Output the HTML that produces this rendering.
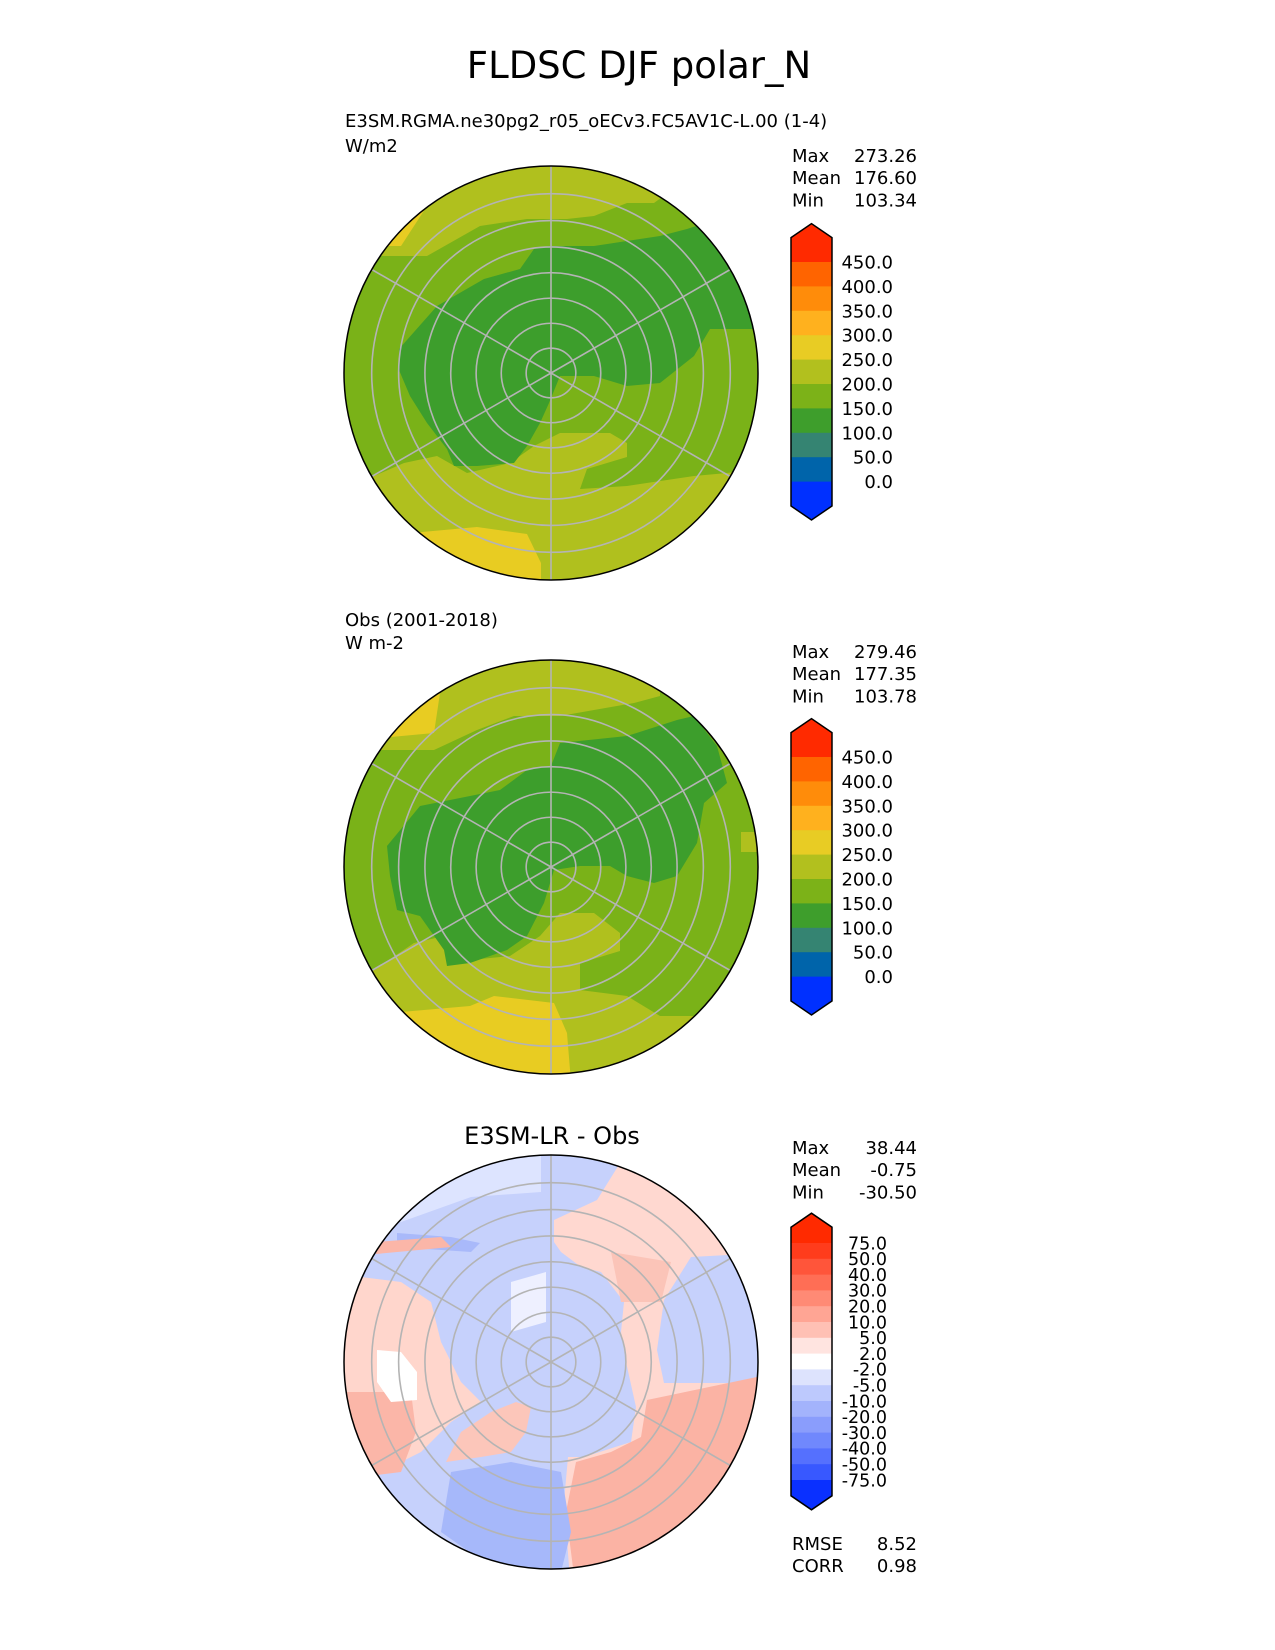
<!DOCTYPE html>
<html><head><meta charset="utf-8">
<style>
html,body{margin:0;padding:0;background:#fff;}
svg{display:block;font-family:"DejaVu Sans","Liberation Sans",sans-serif;}
</style></head>
<body>
<svg id="fig" width="1275" height="1650" viewBox="0 0 1275 1650">
  <text x="639" y="78" font-size="37" text-anchor="middle">FLDSC DJF polar_N</text>

  <text x="345" y="127" font-size="18">E3SM.RGMA.ne30pg2_r05_oECv3.FC5AV1C-L.00 (1-4)</text>
  <text x="345" y="152" font-size="18">W/m2</text>
  <text x="345" y="626" font-size="18">Obs (2001-2018)</text>
  <text x="345" y="649" font-size="18">W m-2</text>
  <text x="552" y="1144" font-size="24" text-anchor="middle">E3SM-LR - Obs</text>

  <defs>
    <clipPath id="clipc"><circle cx="0" cy="0" r="207"/></clipPath>
  </defs>

  <!-- Panel 1 map -->
  <g transform="translate(551,373)">
    <g clip-path="url(#clipc)">
      <rect x="-210" y="-210" width="420" height="420" fill="#7ab218"/>
      <polygon fill="#b0c01e" points="-215,-117 -171,-117 -124,-117 -71,-147 -24,-154 16,-154 43,-157 76,-170 103,-170 126,-187 126,-215 -215,-215"/>
      <polygon fill="#e8cc22" points="-171,-127 -150,-127 -124,-167 -124,-215 -215,-215 -215,-127"/>
      <polygon fill="#b0c01e" points="-215,103 -177,103 -147,90 -114,83 -84,100 -41,90 -17,73 9,60 59,60 76,70 76,84 36,96 29,116 76,113 143,103 176,100 215,95 215,215 -215,215"/>
      <polygon fill="#e8cc22" points="-140,160 -74,154 -24,161 -10,190 -10,215 -150,215"/>
      <polygon fill="#3d9e2c" points="-152,-24 -114,-67 -67,-94 -31,-104 -17,-124 -2,-127 43,-127 109,-137 136,-144 176,-157 215,-160 215,-44 159,-44 143,-17 109,10 76,13 43,3 9,3 -2,30 -11,50 -24,73 -37,90 -74,93 -97,93 -104,76 -124,50 -141,23 -152,-3"/>
    </g>
    <g id="grid1"></g>
    <circle cx="0" cy="0" r="207" fill="none" stroke="#000" stroke-width="1.5"/>
  </g>

  <!-- Panel 2 map -->
  <g transform="translate(551,867)">
    <g clip-path="url(#clipc)">
      <rect x="-210" y="-210" width="420" height="420" fill="#7ab218"/>
      <polygon fill="#b0c01e" points="-215,-117 -161,-117 -117,-117 -74,-137 -37,-151 9,-151 43,-157 83,-164 109,-171 109,-215 -215,-215"/>
      <polygon fill="#e8cc22" points="-160,-130 -117,-134 -111,-174 -90,-215 -215,-215 -215,-130"/>
      <polygon fill="#b0c01e" points="190,-35 215,-35 215,-15 190,-15"/>
      <polygon fill="#b0c01e" points="-215,103 -177,103 -137,76 -107,69 -81,93 -41,89 -11,69 9,46 43,46 69,66 69,84 29,96 29,123 76,129 109,149 143,149 176,116 215,110 215,215 -215,215"/>
      <polygon fill="#e8cc22" points="-150,145 -81,139 -57,129 3,136 16,166 20,215 -160,215"/>
      <polygon fill="#3d9e2c" points="-164,-21 -131,-61 -81,-71 -51,-77 -24,-97 0,-101 9,-124 76,-131 126,-147 143,-151 166,-121 176,-84 153,-64 146,-24 126,9 103,16 76,9 59,-1 29,-1 3,3 -7,36 -24,69 -44,83 -81,96 -104,99 -107,83 -131,49 -154,43 -161,9"/>
    </g>
    <g id="grid2"></g>
    <circle cx="0" cy="0" r="207" fill="none" stroke="#000" stroke-width="1.5"/>
  </g>

  <!-- Panel 3 map -->
  <g transform="translate(551,1362)">
    <g clip-path="url(#clipc)">
      <rect x="-210" y="-210" width="420" height="420" fill="#c6d1fc"/>
      <polygon fill="#dde4ff" points="-215,-215 -10,-215 -10,-170 -80,-165 -150,-140 -215,-130"/>
      <polygon fill="#a9b9fa" points="-154,-129 -100,-125 -71,-119 -80,-110 -154,-115"/>
      <polygon fill="#fbb6a8" points="-175,-120 -110,-125 -100,-115 -175,-108"/>
      <polygon fill="#ffd8d0" points="3,-142 46,-162 79,-215 230,-215 230,-110 140,-105 113,-62 106,-12 113,21 230,21 230,230 20,230 13,140 17,95 33,95 80,80 85,45 75,0 70,-30 73,-60 50,-90 30,-95 10,-110 3,-120"/>
      <polygon fill="#fbb3a4" points="96,38 230,10 230,230 25,230 15,150 25,100 60,90 90,75"/>
      <polygon fill="#fbc4b8" points="60,-110 120,-100 110,-60 70,-60"/>
      <polygon fill="#ffd6cc" points="-230,-90 -150,-80 -120,-60 -110,-20 -90,20 -70,40 -100,60 -130,90 -150,100 -230,110"/>
      <polygon fill="#fbb6a8" points="-230,30 -140,30 -135,70 -150,110 -230,120"/>
      <polygon fill="#ffffff" points="-174,-12 -150,-10 -134,10 -134,38 -160,40 -174,20"/>
      <polygon fill="#fcc6ba" points="-105,100 -90,70 -60,50 -35,40 -20,45 -25,70 -40,90 -70,95"/>
      <polygon fill="#a6b8fa" points="-100,110 -40,100 10,110 20,170 10,210 -60,205 -110,170"/>
      <polygon fill="#eef0ff" points="-40,-80 -5,-90 -5,-40 -40,-30"/>
    </g>
    <g id="grid3"></g>
    <circle cx="0" cy="0" r="207" fill="none" stroke="#000" stroke-width="1.5"/>
  </g>

  <g id="cbars"></g>
  <g id="stats"></g>
</svg>
<script>
const NS = "http://www.w3.org/2000/svg";
// grid: latitude rings and meridians (stereographic)
const gridLats = [85, 80, 75, 70, 65, 60, 55];
const gridLons = [0, 60, 120, 180, 240, 300];
const boundaryLat = 50;
const mapR = 207;
function latToR(lat){ return mapR * Math.tan((90-lat)*Math.PI/360) / Math.tan((90-boundaryLat)*Math.PI/360); }
['grid1','grid2','grid3'].forEach(function(id){
  const g = document.getElementById(id);
  gridLats.forEach(function(lat){
    const c = document.createElementNS(NS,'circle');
    c.setAttribute('cx',0); c.setAttribute('cy',0); c.setAttribute('r',latToR(lat));
    c.setAttribute('fill','none'); c.setAttribute('stroke','#b4b4b4'); c.setAttribute('stroke-width','1.6');
    
    
    g.appendChild(c);
  });
  gridLons.forEach(function(lon){
    const a = (lon+90)*Math.PI/180;
    const l = document.createElementNS(NS,'line');
    l.setAttribute('x1',0); l.setAttribute('y1',0);
    l.setAttribute('x2',mapR*Math.cos(a)); l.setAttribute('y2',mapR*Math.sin(a));
    l.setAttribute('stroke','#b4b4b4'); l.setAttribute('stroke-width','1.6');
    
    
    g.appendChild(l);
  });
});

// colorbar data
const levelsMain = ["450.0","400.0","350.0","300.0","250.0","200.0","150.0","100.0","50.0","0.0"];
const colorsMain = ["#ff2a00","#ff6400","#ff8c0a","#ffb11e","#e8cc24","#b2c01e","#7cb218","#3e9e2c","#358472","#0064aa","#0030ff"];
const levelsDiff = ["75.0","50.0","40.0","30.0","20.0","10.0","5.0","2.0","-2.0","-5.0","-10.0","-20.0","-30.0","-40.0","-50.0","-75.0"];
const colorsDiff = ["#ff2a00","#ff3c1c","#ff553a","#ff6e55","#ff8a75","#ffa594","#ffc0b4","#ffe4e0","#ffffff","#dde3fd","#bdc9fd","#a3b3fc","#8a9dfc","#7088fd","#5570fe","#3858ff","#0a30ff"];
const statLabelsTest = ["Max","Mean","Min"], statValuesTest = ["273.26","176.60","103.34"];
const statLabelsObs = ["Max","Mean","Min"], statValuesObs = ["279.46","177.35","103.78"];
const statLabelsDiff = ["Max","Mean","Min"], statValuesDiff = ["38.44","-0.75","-30.50"];
const metricLabels = ["RMSE","CORR"], metricValues = ["8.52","0.98"];

function colorbar(name, levels, colors, firstB, step, labelRight, fs){
  const g = document.getElementById('cbars');
  const x = 791, w = 41, tip = 14;
  const n = levels.length;
  const topSh = firstB - step, botSh = firstB + (n-1)*step + step;
  for (let i=0;i<colors.length;i++){
    let p;
    if (i===0){
      p = document.createElementNS(NS,'polygon');
      p.setAttribute('points', x+','+topSh+' '+(x+w/2)+','+(topSh-tip)+' '+(x+w)+','+topSh+' '+(x+w)+','+firstB+' '+x+','+firstB);
      
    } else if (i===colors.length-1){
      const yb = firstB+(n-1)*step;
      p = document.createElementNS(NS,'polygon');
      p.setAttribute('points', x+','+yb+' '+(x+w)+','+yb+' '+(x+w)+','+botSh+' '+(x+w/2)+','+(botSh+tip)+' '+x+','+botSh);
      
    } else {
      p = document.createElementNS(NS,'rect');
      p.setAttribute('x',x); p.setAttribute('y',firstB+(i-1)*step);
      p.setAttribute('width',w); p.setAttribute('height',step+0.5);
      
    }
    
    p.setAttribute('fill',colors[i]);
    g.appendChild(p);
  }
  const o = document.createElementNS(NS,'polygon');
  o.setAttribute('points', x+','+topSh+' '+(x+w/2)+','+(topSh-tip)+' '+(x+w)+','+topSh+' '+(x+w)+','+botSh+' '+(x+w/2)+','+(botSh+tip)+' '+x+','+botSh);
  o.setAttribute('fill','none'); o.setAttribute('stroke','#000'); o.setAttribute('stroke-width','1.5');
  
  
  g.appendChild(o);
  levels.forEach(function(lv,i){
    const t = document.createElementNS(NS,'text');
    t.setAttribute('x',labelRight); t.setAttribute('y',firstB+i*step+fs*0.36);
    t.setAttribute('font-size',fs); t.setAttribute('text-anchor','end');
    t.textContent = lv;
    
    
    g.appendChild(t);
  });
}
colorbar('test-colorbar', levelsMain, colorsMain, 262, 24.4, 893, 18);
colorbar('obs-colorbar', levelsMain, colorsMain, 757, 24.4, 893, 18);
colorbar('diff-colorbar', levelsDiff, colorsDiff, 1243, 15.8, 887, 17.5);

function stats(labels, values, y0, dy, nm){
  const g = document.getElementById('stats');
  labels.forEach(function(l,i){
    const a = document.createElementNS(NS,'text');
    a.setAttribute('x',792); a.setAttribute('y',y0+i*dy); a.setAttribute('font-size',18);
    a.textContent = l;
    
    
    g.appendChild(a);
    const b = document.createElementNS(NS,'text');
    b.setAttribute('x',917); b.setAttribute('y',y0+i*dy); b.setAttribute('font-size',18);
    b.setAttribute('text-anchor','end');
    b.textContent = values[i];
    
    
    g.appendChild(b);
  });
}
stats(statLabelsTest, statValuesTest, 162, 22.2, 'test-stat');
stats(statLabelsObs, statValuesObs, 658, 22.2, 'obs-stat');
stats(statLabelsDiff, statValuesDiff, 1154, 22.2, 'diff-stat');
stats(metricLabels, metricValues, 1550, 22.2, 'diff-metric');
</script>
</body></html>
